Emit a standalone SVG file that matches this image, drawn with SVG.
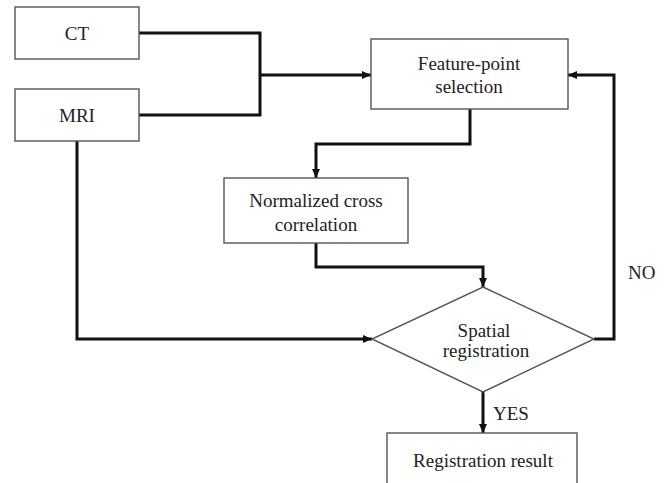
<svg xmlns="http://www.w3.org/2000/svg" width="669" height="483" viewBox="0 0 669 483">
<defs>
<marker id="arr" markerUnits="userSpaceOnUse" markerWidth="9" markerHeight="8" refX="9" refY="4" orient="auto">
<path d="M0,0 L9,4 L0,8 z" fill="#111"/>
</marker>
<style>
.box{fill:#fff;stroke:#555;stroke-width:1.4}
.t{font-size:19px;fill:#222;text-anchor:middle}
.lbl{font-size:19px;fill:#222}
.c{fill:none;stroke:#111;stroke-width:3}
</style>
</defs>
<rect width="669" height="483" fill="#fff"/>
<g id="connectors">
<path class="c" d="M139,33 H260 V115 H139"/>
<path class="c" d="M260,75 H371" marker-end="url(#arr)"/>
<path class="c" d="M470,109 V144 H316 V178" marker-end="url(#arr)"/>
<path class="c" d="M316,243 V267 H483 V287" marker-end="url(#arr)"/>
<path class="c" d="M77,141 V339 H372" marker-end="url(#arr)"/>
<path class="c" d="M594,339 H614 V75 H568" marker-end="url(#arr)"/>
<path class="c" d="M483,392 V433" marker-end="url(#arr)"/>
</g>
<g font-family="'Liberation Serif', 'Times New Roman', serif">
<g id="ct">
<rect class="box" x="15" y="7" width="124" height="52"/>
<text class="t" x="77" y="40">CT</text>
</g>
<g id="mri">
<rect class="box" x="15" y="89" width="124" height="52"/>
<text class="t" x="77" y="122">MRI</text>
</g>
<g id="feature">
<rect class="box" x="371" y="39" width="197" height="70"/>
<text class="t" x="469" y="70">Feature-point</text>
<text class="t" x="469" y="93">selection</text>
</g>
<g id="ncc">
<rect class="box" x="224" y="178" width="184" height="65"/>
<text class="t" x="316" y="207">Normalized cross</text>
<text class="t" x="316" y="231">correlation</text>
</g>
<g id="spatial">
<polygon class="box" points="483,287 594,339 483,392 372,339"/>
<text class="t" x="484" y="337">Spatial</text>
<text class="t" x="486" y="357">registration</text>
</g>
<g id="result">
<rect class="box" x="387" y="433" width="190" height="52"/>
<text class="t" x="483" y="467">Registration result</text>
</g>
<g id="labels">
<text class="lbl" x="493" y="420">YES</text>
<text class="lbl" x="628" y="279">NO</text>
</g>
</g>
</svg>
